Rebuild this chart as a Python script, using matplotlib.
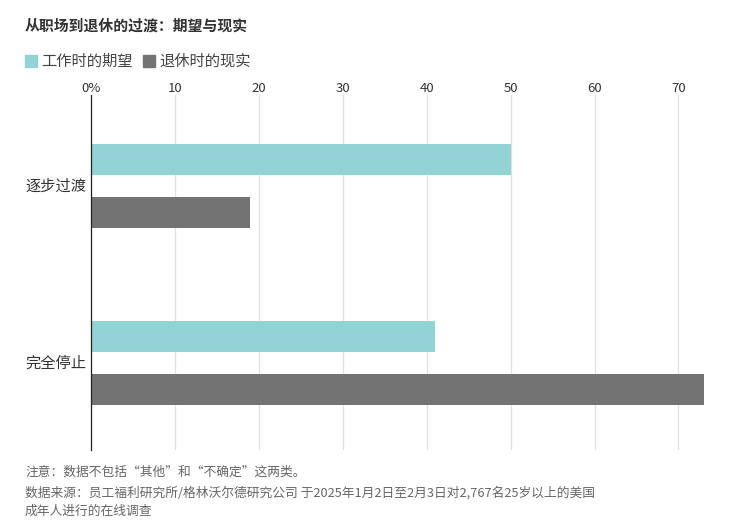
import matplotlib
matplotlib.use('Agg')
import matplotlib.pyplot as plt
from matplotlib.patches import Rectangle

plt.rcParams['font.family'] = ['Noto Sans CJK SC', 'DejaVu Sans']

# 数据
categories = ['逐步过渡', '完全停止']
series_names = ['工作时的期望', '退休时的现实']
expect_vals = [50, 41]
reality_vals = [19, 73]
x_ticks = [0, 10, 20, 30, 40, 50, 60, 70]
x_tick_labels = ['0%', '10', '20', '30', '40', '50', '60', '70']

title = '从职场到退休的过渡：期望与现实'
note = '注意：数据不包括“其他”和“不确定”这两类。'
source1 = '数据来源：员工福利研究所/格林沃尔德研究公司 于2025年1月2日至2月3日对2,767名25岁以上的美国'
source2 = '成年人进行的在线调查'

c_expect = '#92d3d6'
c_real = '#737373'

fig = plt.figure(figsize=(7.44, 5.29), dpi=100)
ax = fig.add_axes([91 / 744, 1 - 450 / 529, (712 - 91) / 744, 355 / 529])

bar_h = 0.176
off = 0.15
ys = list(range(len(categories)))
ax.barh([y - off for y in ys], expect_vals, height=bar_h, color=c_expect, zorder=3)
ax.barh([y + off for y in ys], reality_vals, height=bar_h, color=c_real, zorder=3)

ax.set_xlim(0, 74)
ax.set_ylim(1.493, -0.518)
ax.xaxis.tick_top()
ax.set_xticks(x_ticks)
ax.set_xticklabels(x_tick_labels, fontsize=9.5, color='#333333')
ax.tick_params(axis='x', length=0, pad=0)
ax.grid(axis='x', color='#e0e0e0', linewidth=0.9, zorder=0)
ax.set_yticks([])
for s in ['top', 'right', 'bottom']:
    ax.spines[s].set_visible(False)
ax.spines['left'].set_color('#222222')
ax.spines['left'].set_linewidth(0.9)
ax.spines['left'].set_zorder(4)

for y, cat in zip(ys, categories):
    ax.text(-66 / 8.4, y, cat, fontsize=11, color='#333333',
            ha='left', va='center', clip_on=False)

fig.text(25 / 744, 1 - 26 / 529, title, fontsize=10.7, fontweight='bold',
         color='#333333', ha='left', va='center')

# 图例
ly = 1 - 61 / 529
sq = 12
for lx, name, col in [(25, series_names[0], c_expect), (143, series_names[1], c_real)]:
    fig.patches.append(Rectangle((lx / 744, ly - sq / 2 / 529), sq / 744, sq / 529,
                                 transform=fig.transFigure, color=col))
    fig.text((lx + 16) / 744, ly, name, fontsize=11, color='#444444',
             ha='left', va='center')

fig.text(25 / 744, 1 - 472 / 529, note, fontsize=9.2, color='#666666',
         ha='left', va='center')
fig.text(25 / 744, 1 - 493 / 529, source1, fontsize=9.2, color='#666666',
         ha='left', va='center')
fig.text(25 / 744, 1 - 511 / 529, source2, fontsize=9.2, color='#666666',
         ha='left', va='center')

fig.savefig('out.png', dpi=100)
